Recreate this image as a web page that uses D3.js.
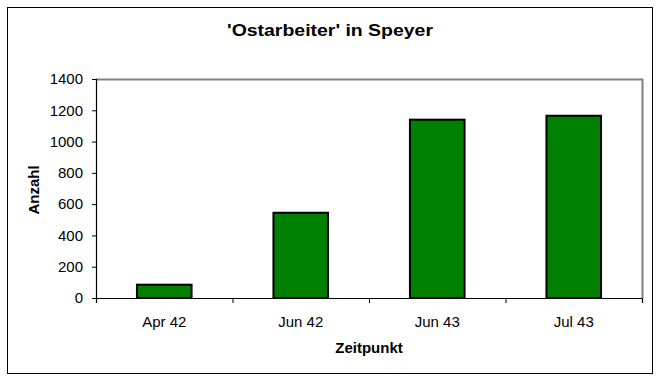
<!DOCTYPE html>
<html><head><meta charset="utf-8">
<script src="https://cdn.jsdelivr.net/npm/d3@7"></script>
<style>html,body{margin:0;padding:0;background:#fff;}svg{display:block;}</style>
</head><body>
<script>
const categories = ["Apr 42", "Jun 42", "Jun 43", "Jul 43"];
const values = [85, 545, 1140, 1165];
const yTicks = [0, 200, 400, 600, 800, 1000, 1200, 1400];
const title = "'Ostarbeiter' in Speyer";
const xTitle = "Zeitpunkt";
const yTitle = "Anzahl";

(function () {
const W = 662, H = 381;
const FONT = "Arial, 'Liberation Sans', sans-serif";
const svg = d3.select("body").append("svg").attr("width", W).attr("height", H);
svg.append("rect").attr("width", W).attr("height", H).attr("fill", "#fff");
svg.append("rect").attr("x", 7.5).attr("y", 7.5).attr("width", 645).attr("height", 366)
  .attr("fill", "none").attr("stroke", "#000").attr("stroke-width", 1);

const pL = 96, pR = 642, pT = 79, pB = 298;
const x = d3.scaleBand().domain(categories).range([pL, pR]).paddingInner(0.6).paddingOuter(0.3);
const y = d3.scaleLinear().domain([0, 1400]).range([pB, pT]);

svg.append("path").attr("d", `M${pL},${pT+0.5}H${pR+0.5}V${pB}`)
  .attr("fill", "none").attr("stroke", "#808080").attr("stroke-width", 2);

svg.append("g").selectAll("rect").data(values).join("rect")
  .attr("x", (d, i) => x(categories[i]))
  .attr("y", d => y(d))
  .attr("width", x.bandwidth())
  .attr("height", d => pB - y(d))
  .attr("fill", "#008000").attr("stroke", "#000").attr("stroke-width", 2);

const yAxis = d3.axisLeft(y).tickValues(yTicks).tickSize(4).tickPadding(9).tickFormat(d3.format("d"));
const gy = svg.append("g").attr("transform", `translate(${pL},0)`).call(yAxis);
gy.select(".domain").attr("stroke", "#000").attr("stroke-width", 1.2);
gy.selectAll(".tick line").attr("stroke", "#000");
gy.selectAll("text").attr("font-family", FONT).attr("font-size", 15).attr("fill", "#000");

const xb = d3.scalePoint().domain(d3.range(categories.length + 1)).range([pL, pR]);
const gx = svg.append("g").attr("transform", `translate(0,${pB})`)
  .call(d3.axisBottom(xb).tickSize(5).tickFormat(""));
gx.select(".domain").attr("stroke", "#000").attr("stroke-width", 1.2);
gx.selectAll(".tick line").attr("stroke", "#000");
svg.append("g").selectAll("text").data(categories).join("text")
  .attr("x", d => x(d) + x.bandwidth() / 2).attr("y", 327)
  .attr("text-anchor", "middle")
  .attr("font-family", FONT).attr("font-size", 15)
  .text(d => d);

svg.append("text").attr("x", 330).attr("y", 36).attr("text-anchor", "middle")
  .attr("font-family", FONT).attr("font-size", 17).attr("font-weight", "bold")
  .attr("textLength", 206).attr("lengthAdjust", "spacingAndGlyphs")
  .text(title);
svg.append("text").attr("x", 369).attr("y", 353).attr("text-anchor", "middle")
  .attr("font-family", FONT).attr("font-size", 15).attr("font-weight", "bold")
  .text(xTitle);
svg.append("text").attr("transform", "translate(39,190) rotate(-90)").attr("text-anchor", "middle")
  .attr("font-family", FONT).attr("font-size", 15).attr("font-weight", "bold")
  .text(yTitle);
})();
</script>
</body></html>
